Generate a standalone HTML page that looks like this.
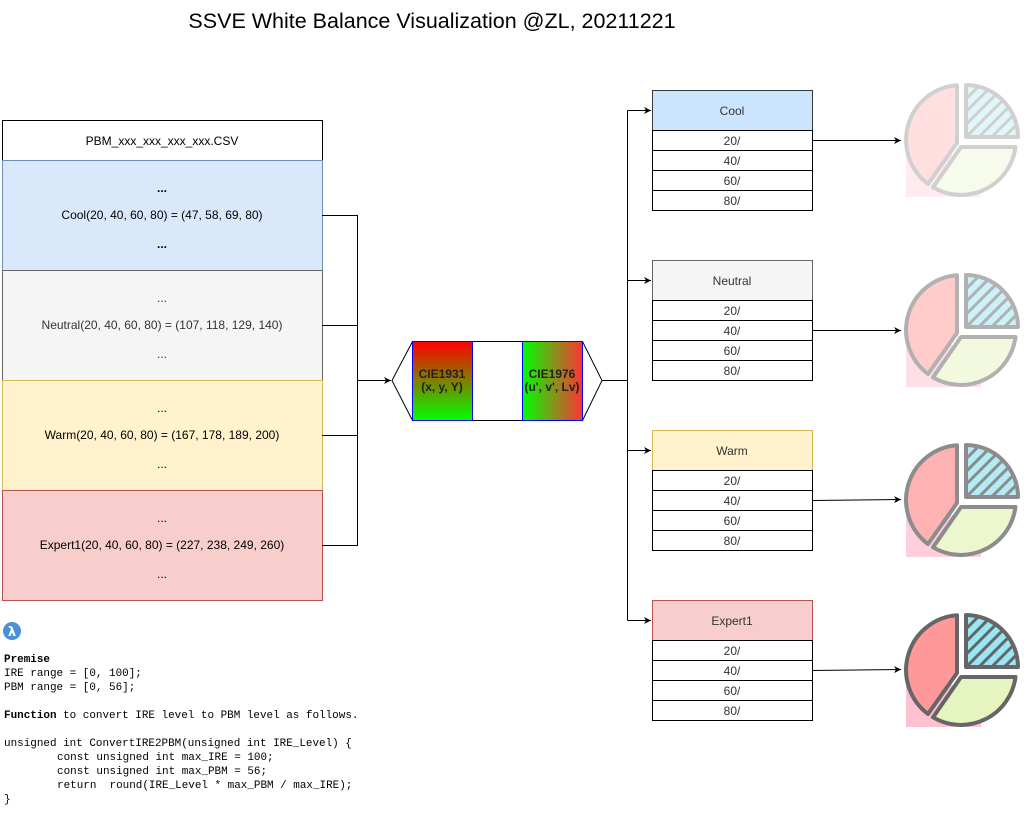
<!DOCTYPE html>
<html><head><meta charset="utf-8"><style>
html,body{margin:0;padding:0;background:#fff;}
svg{display:block;font-family:"Liberation Sans",Arial,sans-serif;}
.m{font-family:"Liberation Mono",monospace;font-size:10.95px;fill:#000;}
</style></head><body>
<svg width="1024" height="823" viewBox="0 0 1024 823" xmlns="http://www.w3.org/2000/svg">
<defs>
<marker id="ar" markerWidth="8" markerHeight="8" refX="7" refY="4" orient="auto" markerUnits="userSpaceOnUse">
<path d="M0,0.5 L7,4 L0,7.5 L2,4 Z" fill="#000"/></marker>
<linearGradient id="g1" x1="0" y1="0" x2="0" y2="1"><stop offset="0" stop-color="#ff0000"/><stop offset="1" stop-color="#00ff00"/></linearGradient>
<linearGradient id="g2" x1="0" y1="0" x2="1" y2="0"><stop offset="0" stop-color="#00ff00"/><stop offset="1" stop-color="#ff3333"/></linearGradient>
<pattern id="h" width="9" height="9" patternUnits="userSpaceOnUse" patternTransform="rotate(45)">
<rect width="9" height="9" fill="#99e6f5"/><rect width="3" height="9" fill="#666"/></pattern>
<g id="pie">
<rect x="-55" y="15" width="75" height="42" fill="#ffc0d0"/>
<path d="M-4,3 L-4,-54.8 A55,55 0 0,0 -33,44 Z" fill="#ff9999" stroke="#666" stroke-width="4" stroke-linejoin="round"/>
<path d="M0,7 L54.5,7 A55,55 0 0,1 -28,47.3 Z" fill="#e6f5c0" stroke="#666" stroke-width="4" stroke-linejoin="round"/>
<path d="M5,-3 L5,-55 A52,52 0 0,1 57,-3 Z" fill="url(#h)" stroke="#666" stroke-width="4" stroke-linejoin="round"/>
</g>
</defs>

<text x="432" y="28" font-size="21.5" text-anchor="middle" fill="#000">SSVE White Balance Visualization @ZL, 20211221</text>

<rect x="2.5" y="120.5" width="320" height="40" fill="#fff" stroke="#000"/>
<text x="162" y="145" font-size="12" text-anchor="middle">PBM_xxx_xxx_xxx_xxx.CSV</text>
<rect x="2.5" y="160.5" width="320" height="110" fill="#dae8fc" stroke="#6c8ebf"/>
<rect x="2.5" y="270.5" width="320" height="110" fill="#f5f5f5" stroke="#666"/>
<rect x="2.5" y="380.5" width="320" height="110" fill="#fff2cc" stroke="#d6b656"/>
<rect x="2.5" y="490.5" width="320" height="110" fill="#f8cecc" stroke="#b85450"/>
<g font-size="12" text-anchor="middle">
<text x="162" y="192" font-weight="bold">...</text><text x="162" y="219">Cool(20, 40, 60, 80) = (47, 58, 69, 80)</text><text x="162" y="248" font-weight="bold">...</text>
<g fill="#333"><text x="162" y="302">...</text><text x="162" y="329">Neutral(20, 40, 60, 80) = (107, 118, 129, 140)</text><text x="162" y="358">...</text></g>
<text x="162" y="412">...</text><text x="162" y="439">Warm(20, 40, 60, 80) = (167, 178, 189, 200)</text><text x="162" y="468">...</text>
<text x="162" y="522">...</text><text x="162" y="549">Expert1(20, 40, 60, 80) = (227, 238, 249, 260)</text><text x="162" y="578">...</text>
</g>

<g fill="none" stroke="#000" stroke-width="1">
<path d="M322,215.5 H357.5 V545.5 H322"/>
<path d="M322,325.5 H357.5 M322,435.5 H357.5"/>
<path d="M357.5,380.5 H391" marker-end="url(#ar)"/>
</g>

<path d="M392,380.5 L412.5,341.5 H582.5 L602,380.5 L582.5,420.5 H412.5 Z" fill="#fff" stroke="#000"/>
<rect x="412.5" y="341.5" width="60" height="79" fill="url(#g1)" stroke="#0000ff"/>
<rect x="522.5" y="341.5" width="60" height="79" fill="url(#g2)" stroke="#0000ff"/>
<g font-size="12" text-anchor="middle" fill="#222" font-weight="bold">
<text x="442" y="378">CIE1931</text><text x="442" y="391">(x, y, Y)</text>
<text x="552" y="378">CIE1976</text><text x="552" y="391">(u', v', Lv)</text>
</g>

<g fill="none" stroke="#000">
<path d="M602,380.5 H627.5"/>
<path d="M627.5,110.5 V620.5"/>
<path d="M627.5,110.5 H651" marker-end="url(#ar)"/>
<path d="M627.5,280.5 H651" marker-end="url(#ar)"/>
<path d="M627.5,450.5 H651" marker-end="url(#ar)"/>
<path d="M627.5,620.5 H651" marker-end="url(#ar)"/>
<path d="M812,140.5 H901" marker-end="url(#ar)"/>
<path d="M812,330.5 H901" marker-end="url(#ar)"/>
<path d="M812,500.5 L901,499.5" marker-end="url(#ar)"/>
<path d="M812,670.5 L901,669.5" marker-end="url(#ar)"/>
</g>

<g font-size="12" text-anchor="middle" fill="#333">
<rect x="652.5" y="90.5" width="160" height="40" fill="#cce5ff" stroke="#36393d"/>
<text x="732" y="115">Cool</text>
<rect x="652.5" y="130.5" width="160" height="20" fill="#fff" stroke="#000"/><text x="732" y="145">20/</text>
<rect x="652.5" y="150.5" width="160" height="20" fill="#fff" stroke="#000"/><text x="732" y="165">40/</text>
<rect x="652.5" y="170.5" width="160" height="20" fill="#fff" stroke="#000"/><text x="732" y="185">60/</text>
<rect x="652.5" y="190.5" width="160" height="20" fill="#fff" stroke="#000"/><text x="732" y="205">80/</text>

<rect x="652.5" y="260.5" width="160" height="40" fill="#f5f5f5" stroke="#666"/>
<text x="732" y="285">Neutral</text>
<rect x="652.5" y="300.5" width="160" height="20" fill="#fff" stroke="#000"/><text x="732" y="315">20/</text>
<rect x="652.5" y="320.5" width="160" height="20" fill="#fff" stroke="#000"/><text x="732" y="335">40/</text>
<rect x="652.5" y="340.5" width="160" height="20" fill="#fff" stroke="#000"/><text x="732" y="355">60/</text>
<rect x="652.5" y="360.5" width="160" height="20" fill="#fff" stroke="#000"/><text x="732" y="375">80/</text>

<rect x="652.5" y="430.5" width="160" height="40" fill="#fff2cc" stroke="#d6b656"/>
<text x="732" y="455">Warm</text>
<rect x="652.5" y="470.5" width="160" height="20" fill="#fff" stroke="#000"/><text x="732" y="485">20/</text>
<rect x="652.5" y="490.5" width="160" height="20" fill="#fff" stroke="#000"/><text x="732" y="505">40/</text>
<rect x="652.5" y="510.5" width="160" height="20" fill="#fff" stroke="#000"/><text x="732" y="525">60/</text>
<rect x="652.5" y="530.5" width="160" height="20" fill="#fff" stroke="#000"/><text x="732" y="545">80/</text>

<rect x="652.5" y="600.5" width="160" height="40" fill="#f8cecc" stroke="#b85450"/>
<text x="732" y="625">Expert1</text>
<rect x="652.5" y="640.5" width="160" height="20" fill="#fff" stroke="#000"/><text x="732" y="655">20/</text>
<rect x="652.5" y="660.5" width="160" height="20" fill="#fff" stroke="#000"/><text x="732" y="675">40/</text>
<rect x="652.5" y="680.5" width="160" height="20" fill="#fff" stroke="#000"/><text x="732" y="695">60/</text>
<rect x="652.5" y="700.5" width="160" height="20" fill="#fff" stroke="#000"/><text x="732" y="715">80/</text>
</g>

<g transform="translate(961,140)" opacity="0.3"><use href="#pie"/></g>
<g transform="translate(961,330)" opacity="0.5"><use href="#pie"/></g>
<g transform="translate(961,500)" opacity="0.75"><use href="#pie"/></g>
<g transform="translate(961,670)"><use href="#pie"/></g>

<circle cx="12" cy="631" r="9" fill="#4a90d9"/>
<text x="12" y="636" font-size="13" font-weight="bold" fill="#fff" text-anchor="middle" font-family="DejaVu Sans,sans-serif">λ</text>

<text class="m" x="4" y="662" font-weight="bold">Premise</text>
<text class="m" x="4" y="676">IRE range = [0, 100];</text>
<text class="m" x="4" y="690">PBM range = [0, 56];</text>
<text class="m" x="4" y="718"><tspan font-weight="bold">Function</tspan> to convert IRE level to PBM level as follows.</text>
<text class="m" x="4" y="746">unsigned int ConvertIRE2PBM(unsigned int IRE_Level) {</text>
<text class="m" x="57" y="760">const unsigned int max_IRE = 100;</text>
<text class="m" x="57" y="774">const unsigned int max_PBM = 56;</text>
<text class="m" x="57" y="788" xml:space="preserve">return  round(IRE_Level * max_PBM / max_IRE);</text>
<text class="m" x="4" y="802">}</text>
</svg>
</body></html>
